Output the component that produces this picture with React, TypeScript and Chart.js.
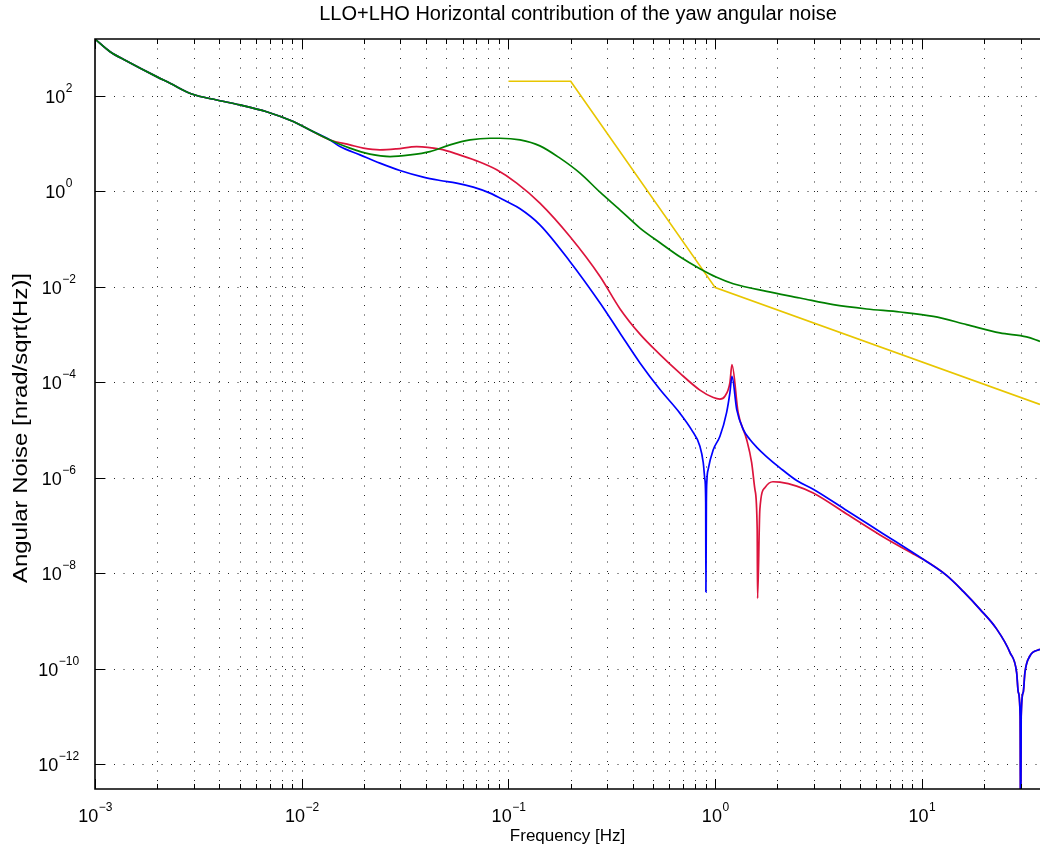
import React, { useEffect, useRef } from 'react';
import { Chart, registerables } from 'chart.js';

Chart.register(...registerables);

// ---------- axis ranges ----------
const X_MIN = 0.001;
const X_MAX = 37.24;
const Y_MIN = 3.13e-13;
const Y_MAX = 1535;

// ---------- tick labels ----------
const xTickValues = [0.001, 0.01, 0.1, 1, 10];
const xTickExponents = ['\u22123', '\u22122', '\u22121', '0', '1'];
const yTickValues = [1e2, 1e0, 1e-2, 1e-4, 1e-6, 1e-8, 1e-10, 1e-12];
const yTickExponents = ['2', '0', '\u22122', '\u22124', '\u22126', '\u22128', '\u221210', '\u221212'];
const minorMultipliers = [1, 2, 3, 4, 5, 6, 7, 8, 9];

// ---------- data ----------
// shared low-frequency part (the three noise curves coincide)
const commonFreq = [0.001, 0.001183, 0.001422, 0.001986, 0.002307, 0.002938, 0.003882, 0.005023, 0.006761, 0.009099, 0.01096, 0.01371];
const commonVal = [1535, 832, 532, 250, 182, 108, 81, 64, 46, 28.6, 19.1, 11.8];

const blueFreq = [0.01531, 0.01914, 0.02388, 0.02985, 0.03873, 0.04667, 0.0561, 0.06761, 0.08147, 0.09795, 0.1138, 0.1419, 0.1982, 0.2773, 0.3459, 0.4325, 0.5408, 0.6745, 0.7675, 0.8433, 0.875, 0.8913, 0.8995, 0.9016, 0.9062, 0.9122, 0.9247, 0.9795, 1.054, 1.135, 1.178, 1.205, 1.271, 1.368, 1.472, 1.585, 1.77, 2.057, 2.477, 2.979, 4.325, 6.266, 10.14, 13.15, 15.84, 19.1, 22.96, 26.67, 28.71, 29.24, 29.85, 30.02, 30.2, 30.9, 31.48, 33.27, 37.24];
const blueVal = [8.57, 5.74, 3.85, 2.7, 1.96, 1.67, 1.47, 1.21, 0.908, 0.605, 0.427, 0.197, 0.0337, 4.54e-3, 1.07e-3, 2.52e-4, 6.97e-5, 2.24e-5, 1.01e-5, 4.54e-6, 2.07e-6, 9.12e-7, 3.01e-7, 4.0e-9, 3.0e-7, 9.1e-7, 1.48e-6, 3.87e-6, 7.35e-6, 2.3e-5, 6.03e-5, 1.32e-4, 2.66e-5, 1.01e-5, 6.27e-6, 4.36e-6, 2.76e-6, 1.6e-6, 8.69e-7, 5.71e-7, 2.05e-7, 7.35e-8, 1.94e-8, 8.95e-9, 4.14e-9, 1.74e-9, 6.77e-10, 2.16e-10, 8.25e-11, 3.19e-11, 1.0e-11, 1e-14, 1.0e-11, 3.19e-11, 8.25e-11, 1.83e-10, 2.54e-10];

const redFreq = [0.0171, 0.01986, 0.02388, 0.02877, 0.03597, 0.04667, 0.0561, 0.07015, 0.0877, 0.1096, 0.1419, 0.1982, 0.2773, 0.3459, 0.4325, 0.5408, 0.6745, 0.8433, 0.9795, 1.054, 1.114, 1.178, 1.205, 1.291, 1.419, 1.5, 1.556, 1.596, 1.603, 1.644, 1.742, 1.901, 2.056, 2.477, 2.979, 4.325, 6.266, 9.078, 10.14, 13.15, 15.84, 19.1, 22.96, 26.67, 28.71, 29.24, 29.85, 30.02, 30.2, 30.9, 31.48, 33.27, 37.24];
const redVal = [9.31, 7.94, 7.31, 7.67, 8.57, 7.57, 6.03, 4.3, 2.79, 1.47, 0.561, 0.112, 0.0163, 3.45e-3, 1.01e-3, 3.76e-4, 1.54e-4, 6.8e-5, 4.74e-5, 4.41e-5, 5.05e-5, 9.77e-5, 2.32e-4, 2.3e-5, 6.27e-6, 2.07e-6, 5.64e-7, 8.2e-8, 2.96e-9, 2.15e-7, 6.21e-7, 8.17e-7, 8.01e-7, 6.61e-7, 4.76e-7, 1.73e-7, 6.3e-8, 2.52e-8, 1.94e-8, 8.95e-9, 4.14e-9, 1.74e-9, 6.77e-10, 2.16e-10, 8.25e-11, 3.19e-11, 1.0e-11, 1e-14, 1.0e-11, 3.19e-11, 8.25e-11, 1.83e-10, 2.54e-10];

const greenFreq = [0.0171, 0.02138, 0.02673, 0.03342, 0.04169, 0.05212, 0.06516, 0.08147, 0.09099, 0.1138, 0.1419, 0.1775, 0.2218, 0.2773, 0.3459, 0.4325, 0.5408, 0.6745, 0.8433, 1.016, 1.222, 1.774, 2.57, 3.724, 5.408, 7.834, 11.35, 16.44, 23.82, 32.06, 37.24];
const greenVal = [7.94, 5.94, 5.3, 5.74, 6.73, 9.31, 11.8, 12.8, 12.8, 11.8, 8.87, 4.9, 2.38, 0.95, 0.406, 0.168, 0.0828, 0.0421, 0.0237, 0.0157, 0.0115, 7.94e-3, 5.78e-3, 4.18e-3, 3.4e-3, 2.94e-3, 2.38e-3, 1.6e-3, 1.07e-3, 8.83e-4, 7.14e-4];

const yellowFreq = [0.1, 0.2, 1.0, 37.24];
const yellowVal = [200, 200, 0.0095, 3.4e-5];

const BLUE = '#0000ff';
const RED = 'rgb(220,20,60)';
const GREEN = 'rgb(0,128,0)';
const YELLOW = 'rgb(232,198,0)';

const FONT = '"Liberation Sans", Arial, Helvetica, sans-serif';

function toPoints(f: number[], v: number[]) {
  return f.map((x, i) => ({ x, y: v[i] }));
}

function gridXValues(): number[] {
  const out: number[] = [];
  for (let e = -3; e <= 1; e++) {
    for (const m of minorMultipliers) {
      const v = m * Math.pow(10, e);
      if (v >= X_MIN * 0.999 && v <= X_MAX) out.push(v);
    }
  }
  return out;
}

const decor = {
  id: 'decor',
  beforeDatasetsDraw(chart: any) {
    const { ctx, chartArea: a, scales } = chart;
    const xs = scales.x;
    const ys = scales.y;
    ctx.save();
    ctx.strokeStyle = 'rgba(0,0,0,0.85)';
    ctx.lineWidth = 1;
    ctx.setLineDash([1, 8.5]);
    for (const v of gridXValues()) {
      const px = Math.round(xs.getPixelForValue(v)) + 0.5;
      if (px <= a.left + 1) continue;
      ctx.beginPath();
      ctx.moveTo(px, a.top);
      ctx.lineTo(px, a.bottom);
      ctx.stroke();
    }
    for (const v of yTickValues) {
      const py = Math.round(ys.getPixelForValue(v)) + 0.5;
      ctx.beginPath();
      ctx.moveTo(a.left, py);
      ctx.lineTo(a.right, py);
      ctx.stroke();
    }
    ctx.restore();
  },
  afterDraw(chart: any) {
    const { ctx, chartArea: a, scales } = chart;
    const xs = scales.x;
    const ys = scales.y;
    ctx.save();
    ctx.setLineDash([]);
    ctx.strokeStyle = '#000';
    // tick marks (inward)
    ctx.lineWidth = 1;
    for (const v of gridXValues()) {
      const px = Math.round(xs.getPixelForValue(v)) + 0.5;
      const major = xTickValues.some((t) => Math.abs(t - v) / t < 1e-6);
      const len = major ? 10 : 5;
      ctx.beginPath();
      ctx.moveTo(px, a.bottom);
      ctx.lineTo(px, a.bottom - len);
      ctx.moveTo(px, a.top);
      ctx.lineTo(px, a.top + len);
      ctx.stroke();
    }
    for (const v of yTickValues) {
      const py = Math.round(ys.getPixelForValue(v)) + 0.5;
      ctx.beginPath();
      ctx.moveTo(a.left, py);
      ctx.lineTo(a.left + 10, py);
      ctx.stroke();
    }
    // frame
    ctx.lineWidth = 1.6;
    ctx.beginPath();
    ctx.moveTo(a.right + 2, a.top);
    ctx.lineTo(a.left, a.top);
    ctx.lineTo(a.left, a.bottom);
    ctx.lineTo(a.right + 2, a.bottom);
    ctx.stroke();

    ctx.fillStyle = '#000';
    ctx.textAlign = 'left';
    ctx.textBaseline = 'alphabetic';
    // x tick labels
    xTickValues.forEach((v, i) => {
      const px = xs.getPixelForValue(v);
      ctx.font = `18px ${FONT}`;
      const wb = ctx.measureText('10').width;
      ctx.font = `12px ${FONT}`;
      const we = ctx.measureText(xTickExponents[i]).width;
      const x0 = px - (wb + we) / 2;
      ctx.font = `18px ${FONT}`;
      ctx.fillText('10', x0, a.bottom + 33);
      ctx.font = `12px ${FONT}`;
      ctx.fillText(xTickExponents[i], x0 + wb + 0.5, a.bottom + 22);
    });
    // y tick labels
    yTickValues.forEach((v, i) => {
      const py = ys.getPixelForValue(v);
      ctx.font = `18px ${FONT}`;
      const wb = ctx.measureText('10').width;
      ctx.font = `12px ${FONT}`;
      const we = ctx.measureText(yTickExponents[i]).width;
      const x0 = 58.5 - (wb + we) / 2;
      ctx.font = `18px ${FONT}`;
      ctx.fillText('10', x0, py + 7);
      ctx.font = `12px ${FONT}`;
      ctx.fillText(yTickExponents[i], x0 + wb + 0.5, py - 4);
    });
    // title
    ctx.textAlign = 'center';
    ctx.font = `20px ${FONT}`;
    ctx.fillText('LLO+LHO Horizontal contribution of the yaw angular noise', 578, 20);
    // x label
    ctx.font = `17px ${FONT}`;
    ctx.fillText('Frequency [Hz]', (a.left + a.right) / 2, 841);
    // y label
    const yLabel = 'Angular Noise [nrad/sqrt(Hz)]';
    ctx.save();
    ctx.translate(27, 428);
    ctx.rotate(-Math.PI / 2);
    ctx.font = `21px ${FONT}`;
    const w = ctx.measureText(yLabel).width;
    ctx.scale(310 / w, 1);
    ctx.fillText(yLabel, 0, 0);
    ctx.restore();
    ctx.restore();
  },
};

export default function App() {
  const ref = useRef<HTMLCanvasElement | null>(null);
  useEffect(() => {
    if (!ref.current) return;
    const ds = (label: string, f: number[], v: number[], color: string, straight = false) => ({
      label,
      data: toPoints(f, v),
      borderColor: color,
      backgroundColor: color,
      borderWidth: 1.7,
      pointRadius: 0,
      fill: false,
      tension: 0,
      cubicInterpolationMode: straight ? ('default' as const) : ('monotone' as const),
    });
    const chart = new Chart(ref.current, {
      type: 'line',
      data: {
        datasets: [
          ds('green', commonFreq.concat(greenFreq), commonVal.concat(greenVal), GREEN),
          ds('blue', commonFreq.concat(blueFreq), commonVal.concat(blueVal), BLUE),
          ds('red', commonFreq.concat(redFreq), commonVal.concat(redVal), RED),
          ds('yellow', yellowFreq, yellowVal, YELLOW, true),
        ],
      },
      options: {
        animation: false,
        responsive: false,
        maintainAspectRatio: false,
        events: [],
        layout: { padding: { top: 39, left: 0, right: 0, bottom: 0 } },
        plugins: {
          legend: { display: false },
          title: { display: false },
          tooltip: { enabled: false },
        },
        scales: {
          x: {
            type: 'logarithmic',
            min: X_MIN,
            max: X_MAX,
            grid: { display: false },
            border: { display: false },
            ticks: { display: false },
            afterFit: (s: any) => {
              s.height = 66;
            },
          },
          y: {
            type: 'logarithmic',
            min: Y_MIN,
            max: Y_MAX,
            grid: { display: false },
            border: { display: false },
            ticks: { display: false },
            afterFit: (s: any) => {
              s.width = 95;
            },
          },
        },
      },
      plugins: [decor],
    } as any);
    return () => chart.destroy();
  }, []);
  return (
    <div style={{ position: 'fixed', left: 0, top: 0, width: 1040, height: 855, overflow: 'hidden', background: '#fff' }}>
      <canvas ref={ref} width={1040} height={855} style={{ display: 'block', width: 1040, height: 855 }} />
    </div>
  );
}
